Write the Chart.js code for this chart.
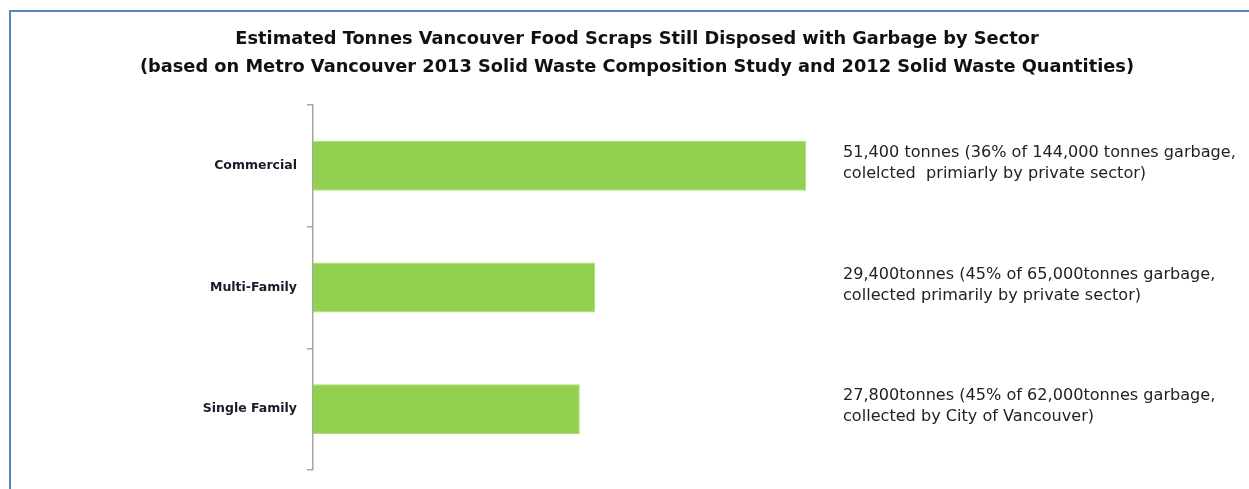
<!DOCTYPE html>
<html>
<head>
<meta charset="utf-8">
<script src="https://cdn.jsdelivr.net/npm/chart.js@4"></script>
<style>
  html, body { margin: 0; padding: 0; background: #fff; overflow: hidden; }
  #frame {
    position: absolute; left: 9px; top: 10px;
    width: 1252px; height: 490px;
    border: 2px solid #5a84c4;
    background: #fff;
  }
  #chart { display: block; }
</style>
</head>
<body>
<div id="frame"><canvas id="chart" width="1252" height="477"></canvas></div>
<script>
// data
const sectors = ['Commercial', 'Multi-Family', 'Single Family'];
const tonnes = [51400, 29400, 27800];
const notes = [
    ['51,400 tonnes (36% of 144,000 tonnes garbage,', 'colelcted  primiarly by private sector)'],
    ['29,400tonnes (45% of 65,000tonnes garbage,', 'collected primarily by private sector)'],
    ['27,800tonnes (45% of 62,000tonnes garbage,', 'collected by City of Vancouver)']
];
const titleLines = [
    'Estimated Tonnes Vancouver Food Scraps Still Disposed with Garbage by Sector',
    '(based on Metro Vancouver 2013 Solid Waste Composition Study and 2012 Solid Waste Quantities)'
];

// text boxes to the right of each bar
const notesPlugin = {
    id: 'notes',
    afterDatasetsDraw(chart) {
        const ctx = chart.ctx;
        const y = chart.scales.y;
        const x0 = chart.chartArea.left + 530;
        ctx.save();
        ctx.font = '16.1px "DejaVu Sans"';
        ctx.fillStyle = '#222';
        ctx.textBaseline = 'middle';
        ctx.textAlign = 'left';
        notes.forEach((lines, i) => {
            const cy = y.getPixelForValue(i) - 3;
            ctx.fillText(lines[0], x0, cy - 10);
            ctx.fillText(lines[1], x0, cy + 11);
        });
        ctx.restore();
    }
};

new Chart(document.getElementById('chart').getContext('2d'), {
    type: 'bar',
    data: {
        labels: sectors,
        datasets: [{
            data: tonnes,
            backgroundColor: '#92d050',
            borderColor: '#a8dc74',
            borderWidth: 1,
            barPercentage: 0.41,
            categoryPercentage: 1
        }]
    },
    options: {
        indexAxis: 'y',
        responsive: false,
        animation: false,
        layout: { padding: { left: 0, right: 0, top: 0, bottom: 19 } },
        plugins: {
            legend: { display: false },
            tooltip: { enabled: false },
            title: {
                display: true,
                text: titleLines,
                color: '#111',
                font: { family: '"DejaVu Sans"', size: 17.8, weight: 'bold', lineHeight: 1.6 },
                padding: { top: 13, bottom: 23 }
            }
        },
        scales: {
            x: { display: false, min: 0, max: 99000 },
            y: {
                afterFit(scale) { scale.width = 302; },
                grid: {
                    drawOnChartArea: false,
                    tickLength: 6,
                    color: '#a6a6a6',
                    lineWidth: 1.5
                },
                border: { color: '#a6a6a6', width: 1.5 },
                ticks: {
                    color: '#1a1a2a',
                    padding: 10,
                    font: { family: '"DejaVu Sans"', size: 12.5, weight: 'bold' }
                }
            }
        }
    },
    plugins: [notesPlugin]
});
</script>
</body>
</html>
